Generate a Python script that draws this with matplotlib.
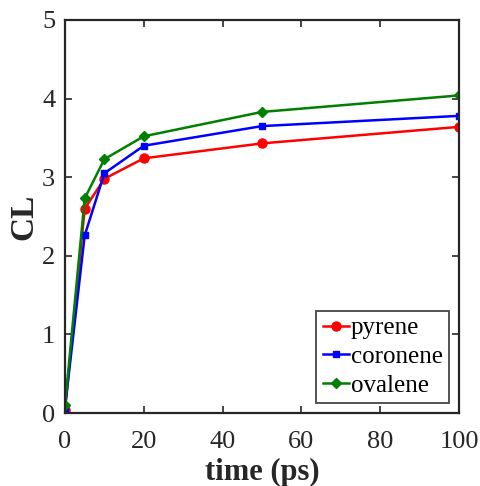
import matplotlib
matplotlib.use("Agg")
from matplotlib import pyplot as plt

time_ps = [0, 5, 10, 20, 50, 100]
pyrene = [0.04, 2.60, 2.98, 3.24, 3.43, 3.64]
coronene = [0.07, 2.26, 3.05, 3.40, 3.65, 3.78]
ovalene = [0.10, 2.73, 3.23, 3.52, 3.83, 4.04]

plt.rcParams['font.family'] = ['Liberation Serif', 'DejaVu Serif']

fig = plt.figure(figsize=(4.8, 4.86), dpi=100)
ax = fig.add_axes([0.1354, 0.150, 0.821, 0.809])

ax.plot(time_ps, pyrene, color='red', marker='o', markersize=6.5, lw=1.8, label='pyrene')
ax.plot(time_ps, coronene, color='blue', marker='s', markersize=4.5, lw=1.8, label='coronene')
ax.plot(time_ps, ovalene, color='green', marker='D', markersize=5, lw=1.8, label='ovalene')

ax.set_xlim(0, 100)
ax.set_ylim(0, 5)
ax.set_xticks([0, 20, 40, 60, 80, 100])
ax.set_yticks([0, 1, 2, 3, 4, 5])
ax.tick_params(direction='in', top=True, right=True, labelsize=19, length=5, width=1.2,
               colors='#262626', pad=7)
ax.tick_params(axis='x', pad=13)
for s in ax.spines.values():
    s.set_linewidth(1.6)
    s.set_color('#262626')

ax.set_xlabel('time (ps)', fontsize=22, fontweight='bold', labelpad=3.5, color='#262626')
ax.set_ylabel('CL', fontsize=24, fontweight='bold', labelpad=2, color='#262626')

leg = ax.legend(loc='lower right', fontsize=18, fancybox=False, edgecolor='#262626',
                handlelength=1.05, handletextpad=0.08, borderpad=0.25, labelspacing=0.25,
                borderaxespad=0.4)
leg.get_frame().set_linewidth(1.4)

fig.savefig('out.png', dpi=100)
